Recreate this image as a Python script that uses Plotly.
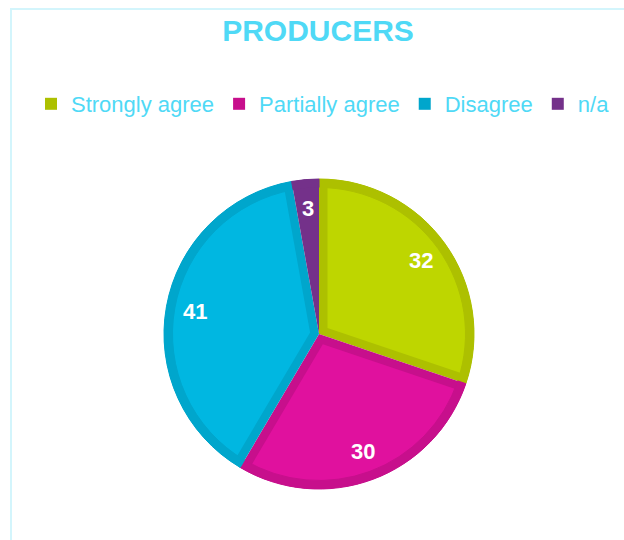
import math
import plotly.graph_objects as go

# ---- data ----
categories = ["Strongly agree", "Partially agree", "Disagree", "n/a"]
values = [32, 30, 41, 3]
title_text = "PRODUCERS"

# ---- styles ----
fill_colors = ["#BED600", "#E0119E", "#00B7E1", "#74318A"]
edge_colors = ["#ADC000", "#C70F8C", "#00A6CC", "#74318A"]
text_color = "#4FD9F6"
frame_color = "#D3F5FC"
FONT = "Liberation Sans, Arial, sans-serif"

W, H = 624, 540
CX, CY = 319, 334      # pie centre (px)
R = 155                # pie radius (px)
BORDER = 8.5           # inner darker rim (px)
LABEL_R = 0.81         # label radius fraction


def domain(cx, cy, half):
    return dict(x=[(cx - half) / W, (cx + half) / W],
                y=[(H - cy - half) / H, (H - cy + half) / H])


common = dict(labels=categories, values=values, sort=False,
              direction="clockwise", rotation=0, textinfo="none")

fig = go.Figure()

# base pie: darker rim colours (also drives the legend)
fig.add_trace(go.Pie(
    **common,
    marker=dict(colors=edge_colors, line=dict(width=0)),
    domain=domain(CX, CY, R), showlegend=True, hoverinfo="label+value",
))

# brighter inner part of each slice, inset from the radial edges
total = sum(values)
for i, v in enumerate(values):
    if v / total < 0.05:
        continue
    half = math.pi * v / total
    s, c = math.sin(half), math.cos(half)
    d = BORDER / s
    r = R - BORDER - d * c + 2
    cols = ["rgba(0,0,0,0)"] * len(values)
    cols[i] = fill_colors[i]
    pull = [0] * len(values)
    pull[i] = d / r
    fig.add_trace(go.Pie(
        **common,
        marker=dict(colors=cols, line=dict(width=0)),
        pull=pull, domain=domain(CX, CY, r + d),
        showlegend=False, hoverinfo="skip",
    ))

# darker outer rim on top
fig.add_trace(go.Pie(
    **common, hole=1 - BORDER / R,
    marker=dict(colors=edge_colors, line=dict(color=edge_colors, width=1)),
    domain=domain(CX, CY, R), showlegend=False, hoverinfo="skip",
))

# value labels placed along each slice's bisector
annotations = []
cum = 0
for v in values:
    mid = 2 * math.pi * (cum + v / 2) / total
    cum += v
    px = CX + LABEL_R * R * math.sin(mid)
    py = CY - LABEL_R * R * math.cos(mid)
    annotations.append(dict(
        x=px / W, y=1 - py / H, xref="paper", yref="paper",
        text=str(v), showarrow=False, xanchor="center", yanchor="middle",
        font=dict(family=FONT, size=22, color="white", weight="bold"),
    ))

fig.update_layout(
    width=W, height=H,
    margin=dict(l=0, r=0, t=0, b=0),
    paper_bgcolor="white", plot_bgcolor="white",
    title=dict(text=title_text, x=318 / W, xanchor="center",
               y=1 - 30 / H, yanchor="middle", yref="container",
               font=dict(family=FONT, size=30, color=text_color, weight="bold")),
    legend=dict(orientation="h", x=323 / W, xanchor="center",
                y=1 - 104 / H, yanchor="middle",
                font=dict(family=FONT, size=22, color=text_color),
                bgcolor="rgba(0,0,0,0)", itemclick=False),
    annotations=annotations,
    shapes=[dict(type="rect", xref="paper", yref="paper",
                 x0=11 / W, x1=1.2, y0=-0.2, y1=1 - 9 / H,
                 line=dict(color=frame_color, width=2), layer="below")],
)

fig.write_html("out.html")
